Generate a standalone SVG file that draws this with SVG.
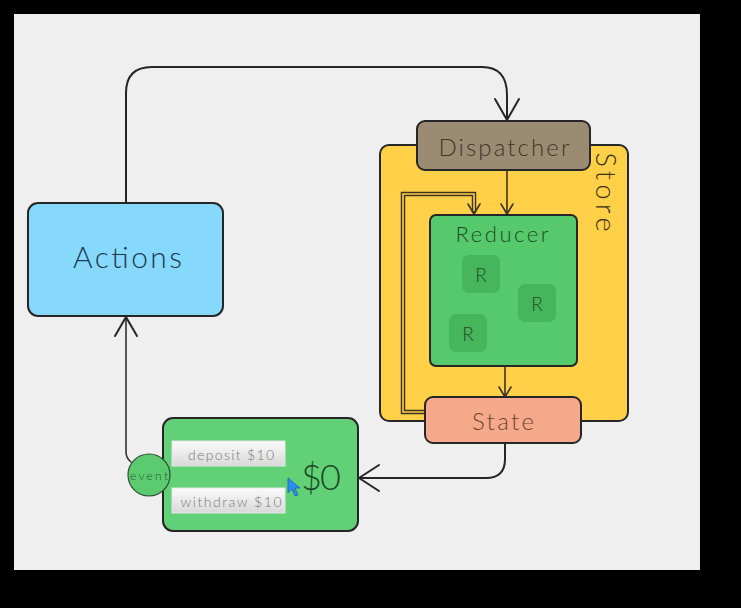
<svg xmlns="http://www.w3.org/2000/svg" width="741" height="608" viewBox="0 0 741 608">
<style>
text{font-family:Lato,"Noto Sans","DejaVu Sans",sans-serif;font-weight:300;text-anchor:middle;dominant-baseline:central}
.box{stroke:#262626;stroke-width:2}
.con{fill:none;stroke:#262626;stroke-width:2;stroke-linecap:round;stroke-linejoin:round}
.thin{fill:none;stroke:#3a3320;stroke-width:1.6;stroke-linecap:round;stroke-linejoin:round}
.rb{fill:#46b55c}
.rt{font-size:19px;fill:#1c4d27}
.btn{fill:url(#bg);stroke:#e6e6e6;stroke-width:1}
.bt{font-size:14px;fill:#7a7a7a}
</style>
<defs>
<linearGradient id="bg" x1="0" y1="0" x2="0" y2="1">
<stop offset="0" stop-color="#fbfbfb"/>
<stop offset="1" stop-color="#d9d9d9"/>
</linearGradient>
</defs>
<rect width="741" height="608" fill="#000"/>
<rect x="14" y="14" width="686" height="556" fill="#efefef"/>

<g id="store">
<rect class="box" x="380" y="145" width="248" height="276" rx="9" fill="#ffd048"/>
<text x="606" y="192" font-size="27" fill="#3c3214" textLength="79" lengthAdjust="spacing" transform="rotate(90 606 192)">Store</text>
</g>

<g id="connectors">
<path class="con" d="M126,203 V93 Q126,67 152,67 H482 Q507,67 507,95 V120"/>
<path class="con" d="M495,99 L507,120 L519,99"/>
<path class="thin" d="M507,171 V213"/>
<path class="thin" d="M501,204 L507,214 L513,204"/>
<path class="thin" d="M505,366 V396"/>
<path class="thin" d="M499,387 L505,397 L511,387"/>
<path fill="none" stroke="#3a3320" stroke-width="4.5" d="M425,412 H403 V194 H474 V212"/>
<path fill="none" stroke="#ffd048" stroke-width="1.6" d="M426,412 H403 V194 H474 V211"/>
<path class="thin" d="M468,204 L474,214 L480,204"/>
<path class="con" d="M505,443 V459 Q505,478 486,478 H359"/>
<path class="con" d="M379,465 L359,478 L379,491"/>
<path class="thin" stroke="#2a2a2a" d="M126,317 V452 Q126,458 131,462"/>
<path class="con" d="M115,336 L126,317 L137,336"/>
</g>

<g id="dispatcher">
<rect class="box" x="417" y="121" width="173" height="49" rx="8" fill="#9c8b73"/>
<text x="504" y="146" font-size="24" fill="#3f3627" textLength="131" lengthAdjust="spacing">Dispatcher</text>
</g>

<g id="reducer">
<rect class="box" x="430" y="215" width="147" height="151" rx="6" fill="#55c96b"/>
<text x="502" y="233" font-size="22" fill="#1c4d27" textLength="93" lengthAdjust="spacing">Reducer</text>
<rect class="rb" x="462" y="255" width="38" height="38" rx="7"/>
<text class="rt" x="481" y="274">R</text>
<rect class="rb" x="518" y="284" width="38" height="38" rx="7"/>
<text class="rt" x="537" y="303">R</text>
<rect class="rb" x="449" y="314" width="38" height="38" rx="7"/>
<text class="rt" x="468" y="333">R</text>
</g>

<g id="state">
<rect class="box" x="425" y="397" width="156" height="46" rx="8" fill="#f5a98a"/>
<text x="503" y="420" font-size="24" fill="#70442f" textLength="62" lengthAdjust="spacing">State</text>
</g>

<g id="actions">
<rect class="box" x="28" y="203" width="195" height="113" rx="10" fill="#86d8fd"/>
<text x="127.5" y="256" font-size="30" fill="#1b3a4d" textLength="109" lengthAdjust="spacing">Actions</text>
</g>

<g id="account">
<rect class="box" x="163" y="418" width="195" height="113" rx="10" fill="#62d077"/>
<text x="321" y="476" font-size="36" fill="#1a4a25" textLength="40" lengthAdjust="spacing">$0</text>
<rect class="btn" x="172" y="441" width="113" height="25"/>
<text class="bt" x="231" y="454" textLength="86" lengthAdjust="spacing">deposit $10</text>
<rect class="btn" x="172" y="488" width="113" height="25"/>
<text class="bt" x="231" y="501" textLength="101" lengthAdjust="spacing">withdraw $10</text>
<path d="M288,478 V493 L292,489 L295,496 L298,495 L295,488 L300,488 Z" fill="#2a8df0" stroke="#1f5fa8" stroke-width="0.8"/>
</g>

<g id="event">
<circle cx="149" cy="475" r="21" fill="#5ccb70" stroke="#2e4a33" stroke-width="1.2"/>
<text x="149" y="475" font-size="12" fill="#245a30" textLength="38" lengthAdjust="spacing">event</text>
</g>
</svg>
